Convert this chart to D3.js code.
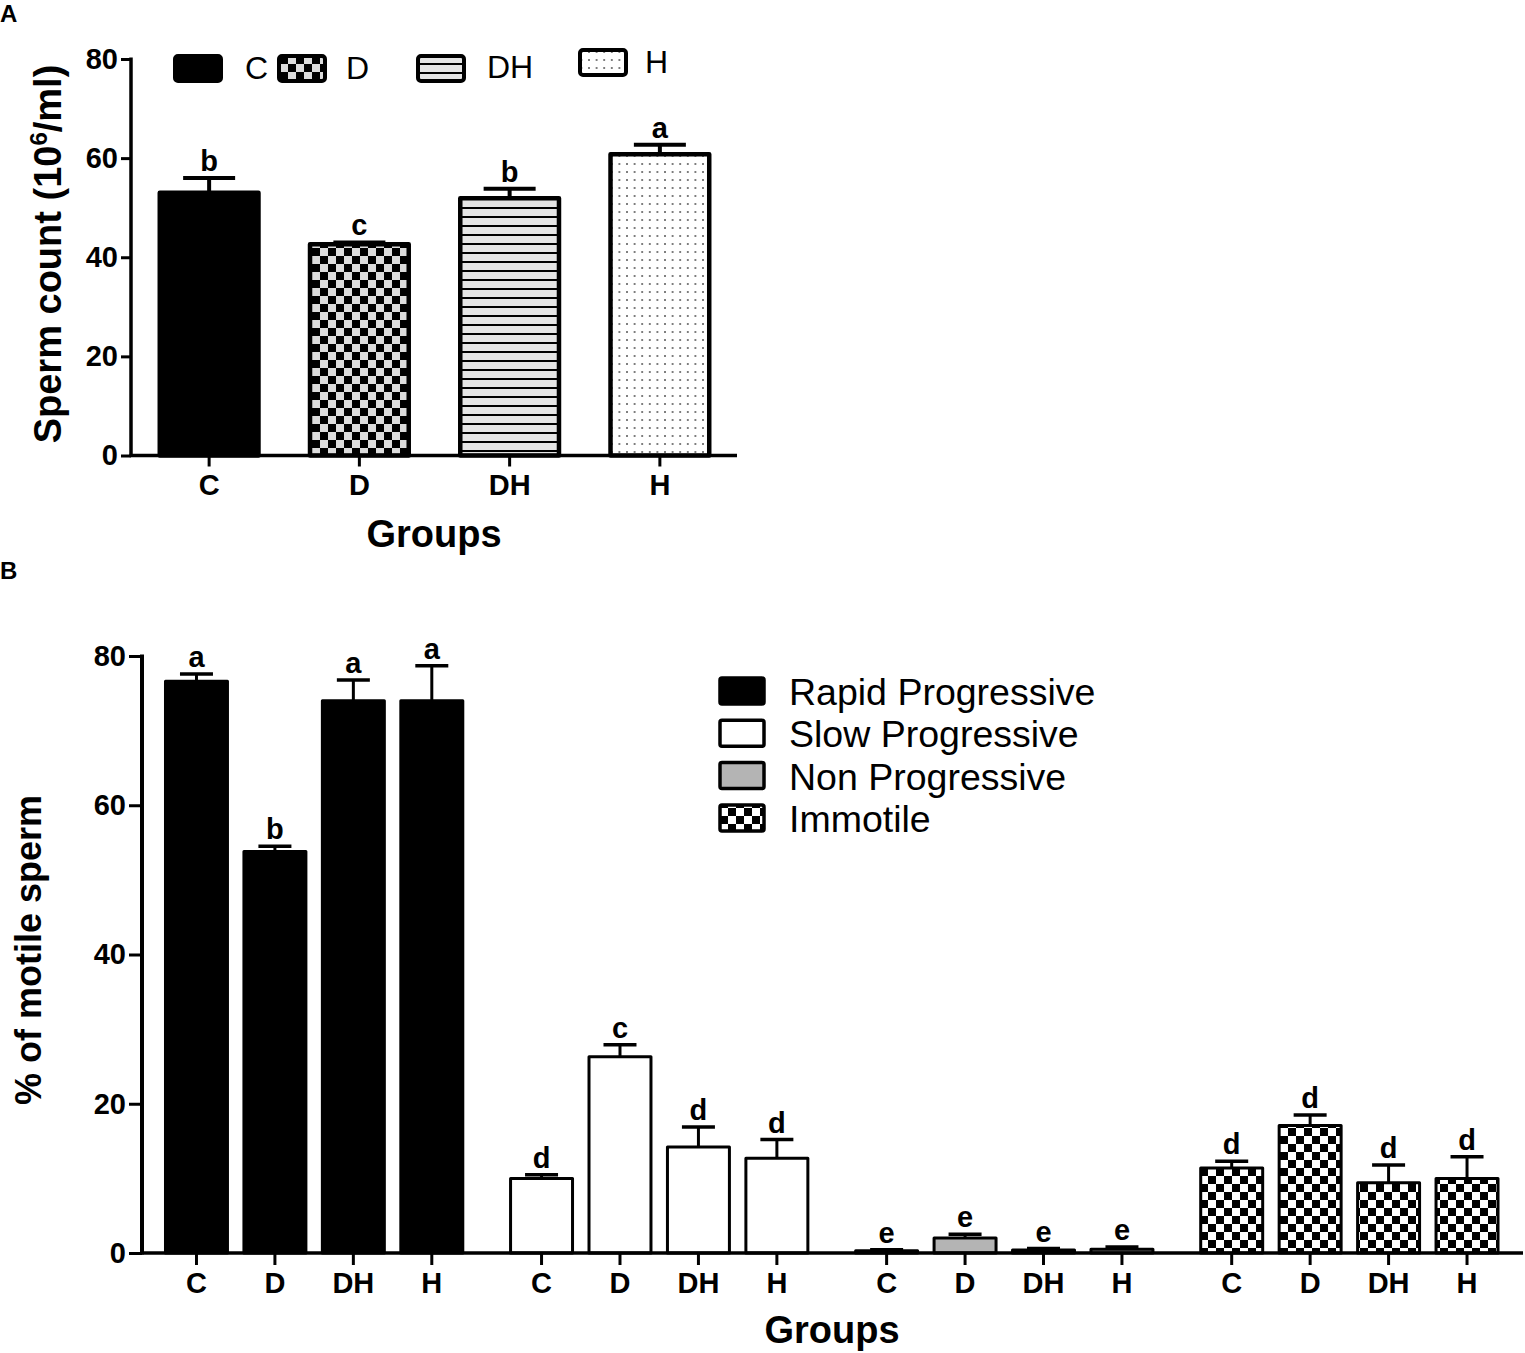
<!DOCTYPE html>
<html>
<head>
<meta charset="utf-8">
<script src="https://cdn.jsdelivr.net/npm/d3@7"></script>
<style>
  html, body { margin: 0; padding: 0; background: #fff; }
  svg { display: block; font-family: "Liberation Sans", Arial, sans-serif; }
</style>
</head>
<body>
<script>
// ---------- DATA ----------
const groups = ["C", "D", "DH", "H"];
const yTicks = [0, 20, 40, 60, 80];

// Panel A: sperm count (10^6/ml)
const countMean = [53.0, 42.6, 51.9, 60.8];
const countSem  = [3.0, 0.4, 1.9, 1.9];
const countLetters = ["b", "c", "b", "a"];

// Panel B: motility (%)
const motilityClasses = ["Rapid Progressive", "Slow Progressive", "Non Progressive", "Immotile"];
const rapidMean = [76.6, 53.8, 74.0, 74.0];
const rapidSem  = [1.0, 0.7, 2.8, 4.7];
const rapidLetters = ["a", "b", "a", "a"];
const slowMean = [10.0, 26.3, 14.2, 12.7];
const slowSem  = [0.5, 1.6, 2.7, 2.5];
const slowLetters = ["d", "c", "d", "d"];
const nonMean = [0.3, 2.0, 0.4, 0.5];
const nonSem  = [0.15, 0.5, 0.2, 0.3];
const nonLetters = ["e", "e", "e", "e"];
const immotileMean = [11.4, 17.1, 9.4, 10.0];
const immotileSem  = [0.9, 1.4, 2.4, 2.9];
const immotileLetters = ["d", "d", "d", "d"];

// ---------- SETUP ----------
const W = 1525, H = 1353;
const svg = d3.select("body").append("svg").attr("width", W).attr("height", H);
svg.append("rect").attr("width", W).attr("height", H).attr("fill", "#fff");

const defs = svg.append("defs");
const pCheckA = defs.append("pattern").attr("id", "checkA").attr("patternUnits", "userSpaceOnUse")
  .attr("width", 16).attr("height", 16);
pCheckA.append("rect").attr("width", 16).attr("height", 16).attr("fill", "#dcdcdc");
pCheckA.append("rect").attr("width", 8).attr("height", 8).attr("fill", "#000");
pCheckA.append("rect").attr("x", 8).attr("y", 8).attr("width", 8).attr("height", 8).attr("fill", "#000");
const pCheckB = defs.append("pattern").attr("id", "checkB").attr("patternUnits", "userSpaceOnUse")
  .attr("width", 16).attr("height", 16);
pCheckB.append("rect").attr("width", 16).attr("height", 16).attr("fill", "#fff");
pCheckB.append("rect").attr("width", 8).attr("height", 8).attr("fill", "#000");
pCheckB.append("rect").attr("x", 8).attr("y", 8).attr("width", 8).attr("height", 8).attr("fill", "#000");
const pStripe = defs.append("pattern").attr("id", "stripes").attr("patternUnits", "userSpaceOnUse")
  .attr("width", 10).attr("height", 9);
pStripe.append("rect").attr("width", 10).attr("height", 9).attr("fill", "#e4e4e4");
pStripe.append("rect").attr("y", 0).attr("width", 10).attr("height", 2).attr("fill", "#000");
const pDots = defs.append("pattern").attr("id", "dots").attr("patternUnits", "userSpaceOnUse")
  .attr("width", 7.6).attr("height", 8);
pDots.append("rect").attr("width", 7.6).attr("height", 8).attr("fill", "#fff");
pDots.append("circle").attr("cx", 3.8).attr("cy", 4).attr("r", 0.9).attr("fill", "#444");

const fillsA = ["#000", "url(#checkA)", "url(#stripes)", "url(#dots)"];
const fillsB = ["#000", "#fff", "#b4b4b4", "url(#checkB)"];

function styleTickText(sel) {
  sel.attr("font-size", 29).attr("font-weight", "bold")
    .attr("font-family", "Liberation Sans, Arial, sans-serif").attr("fill", "#000");
}

// ---------- PANEL A ----------
(function () {
  const g = svg.append("g");
  const x = d3.scaleBand().domain(groups).range([134, 735]).paddingInner(0.343).paddingOuter(0.1715);
  const y = d3.scaleLinear().domain([0, 80]).range([455.5, 59]);
  const axisX0 = 131, axisX1 = 737;

  const data = groups.map((k, i) => ({ k, v: countMean[i], e: countSem[i], l: countLetters[i], f: fillsA[i] }));
  const cap = 52;
  data.forEach(d => {
    const cx = x(d.k) + x.bandwidth() / 2;
    g.append("line").attr("x1", cx).attr("x2", cx).attr("y1", y(d.v)).attr("y2", y(d.v + d.e))
      .attr("stroke", "#000").attr("stroke-width", 4);
    g.append("line").attr("x1", cx - cap / 2).attr("x2", cx + cap / 2).attr("y1", y(d.v + d.e)).attr("y2", y(d.v + d.e))
      .attr("stroke", "#000").attr("stroke-width", 4);
    g.append("text").attr("x", cx).attr("y", y(d.v + d.e) - 7).attr("text-anchor", "middle")
      .attr("font-size", 29).attr("font-weight", "bold").text(d.l);
  });
  g.selectAll("rect.bar").data(data).join("rect").attr("class", "bar")
    .attr("x", d => x(d.k)).attr("width", x.bandwidth())
    .attr("y", d => y(d.v)).attr("height", d => y(0) - y(d.v))
    .attr("fill", d => d.f).attr("stroke", "#000").attr("stroke-width", 4.5)
    .attr("stroke-linejoin", "round");

  const ya = g.append("g").attr("transform", `translate(${axisX0},0)`)
    .call(d3.axisLeft(y).tickValues(yTicks).tickSize(10).tickPadding(3));
  ya.select(".domain").remove();
  ya.selectAll(".tick line").attr("stroke-width", 3);
  styleTickText(ya.selectAll(".tick text"));
  g.append("line").attr("x1", axisX0).attr("x2", axisX0).attr("y1", y(80) - 1.5).attr("y2", y(0) + 1.5)
    .attr("stroke", "#000").attr("stroke-width", 3.5);

  const xa = g.append("g").attr("transform", `translate(0,${y(0)})`)
    .call(d3.axisBottom(x).tickSize(11).tickPadding(8));
  xa.select(".domain").remove();
  xa.selectAll(".tick line").attr("stroke-width", 3);
  styleTickText(xa.selectAll(".tick text"));
  g.append("line").attr("x1", axisX0 - 1.5).attr("x2", axisX1).attr("y1", y(0)).attr("y2", y(0))
    .attr("stroke", "#000").attr("stroke-width", 3.5);

  g.append("text").attr("x", 434).attr("y", 547).attr("text-anchor", "middle")
    .attr("font-size", 38).attr("font-weight", "bold").text("Groups");
  const yt = g.append("text").attr("transform", "translate(61,254) rotate(-90)").attr("text-anchor", "middle")
    .attr("font-size", 38).attr("font-weight", "bold");
  yt.append("tspan").text("Sperm count (10");
  yt.append("tspan").attr("font-size", 24).attr("dy", -14).text("6");
  yt.append("tspan").attr("dy", 14).text("/ml)");

  const leg = [
    { sx: 175, sy: 56, tx: 245, ty: 79, f: fillsA[0], t: "C" },
    { sx: 279, sy: 56, tx: 346, ty: 79, f: fillsA[1], t: "D" },
    { sx: 418, sy: 56, tx: 487, ty: 78, f: fillsA[2], t: "DH" },
    { sx: 580, sy: 50, tx: 645, ty: 73, f: fillsA[3], t: "H" }
  ];
  leg.forEach(d => {
    g.append("rect").attr("x", d.sx).attr("y", d.sy).attr("width", 46).attr("height", 25)
      .attr("rx", 3).attr("fill", d.f).attr("stroke", "#000").attr("stroke-width", 4);
    g.append("text").attr("x", d.tx).attr("y", d.ty).attr("font-size", 32).text(d.t);
  });

  svg.append("text").attr("x", 0).attr("y", 22).attr("font-size", 24).attr("font-weight", "bold").text("A");
})();

// ---------- PANEL B ----------
(function () {
  const g = svg.append("g");
  const series = [
    { name: motilityClasses[0], mean: rapidMean, sem: rapidSem, letters: rapidLetters, fill: fillsB[0] },
    { name: motilityClasses[1], mean: slowMean, sem: slowSem, letters: slowLetters, fill: fillsB[1] },
    { name: motilityClasses[2], mean: nonMean, sem: nonSem, letters: nonLetters, fill: fillsB[2] },
    { name: motilityClasses[3], mean: immotileMean, sem: immotileSem, letters: immotileLetters, fill: fillsB[3] }
  ];
  const x0 = d3.scaleBand().domain(motilityClasses).range([157.25, 1506.25]).paddingInner(0.0907).paddingOuter(0);
  const x1 = d3.scaleBand().domain(groups).range([0, x0.bandwidth()]).paddingInner(0.21).paddingOuter(0.105);
  const y = d3.scaleLinear().domain([0, 80]).range([1253, 656]);
  const axisX0 = 142, axisX1 = 1523;

  const flat = [];
  series.forEach(s => groups.forEach((k, i) => flat.push({ s: s.name, k, v: s.mean[i], e: s.sem[i], l: s.letters[i], f: s.fill })));
  const cap = 33;
  flat.forEach(d => {
    const cx = x0(d.s) + x1(d.k) + x1.bandwidth() / 2;
    g.append("line").attr("x1", cx).attr("x2", cx).attr("y1", y(d.v)).attr("y2", y(d.v + d.e))
      .attr("stroke", "#000").attr("stroke-width", 3);
    g.append("line").attr("x1", cx - cap / 2).attr("x2", cx + cap / 2).attr("y1", y(d.v + d.e)).attr("y2", y(d.v + d.e))
      .attr("stroke", "#000").attr("stroke-width", 3.5);
    g.append("text").attr("x", cx).attr("y", y(d.v + d.e) - 7).attr("text-anchor", "middle")
      .attr("font-size", 29).attr("font-weight", "bold").text(d.l);
  });
  g.selectAll("rect.bar").data(flat).join("rect").attr("class", "bar")
    .attr("x", d => x0(d.s) + x1(d.k)).attr("width", x1.bandwidth())
    .attr("y", d => y(d.v)).attr("height", d => y(0) - y(d.v))
    .attr("fill", d => d.f).attr("stroke", "#000").attr("stroke-width", 3)
    .attr("stroke-linejoin", "round");

  const ya = g.append("g").attr("transform", `translate(${axisX0},0)`)
    .call(d3.axisLeft(y).tickValues(yTicks).tickSize(13).tickPadding(3));
  ya.select(".domain").remove();
  ya.selectAll(".tick line").attr("stroke-width", 3);
  styleTickText(ya.selectAll(".tick text"));
  g.append("line").attr("x1", axisX0).attr("x2", axisX0).attr("y1", y(80) - 1.5).attr("y2", y(0) + 1.5)
    .attr("stroke", "#000").attr("stroke-width", 4);

  series.forEach(s => {
    const xa = g.append("g").attr("transform", `translate(${x0(s.name)},${y(0)})`)
      .call(d3.axisBottom(x1).tickSize(12).tickPadding(7));
    xa.select(".domain").remove();
    xa.selectAll(".tick line").attr("stroke-width", 3);
    styleTickText(xa.selectAll(".tick text"));
  });
  g.append("line").attr("x1", axisX0 - 2).attr("x2", axisX1).attr("y1", y(0)).attr("y2", y(0))
    .attr("stroke", "#000").attr("stroke-width", 3.5);

  g.append("text").attr("x", 832).attr("y", 1343).attr("text-anchor", "middle")
    .attr("font-size", 38).attr("font-weight", "bold").text("Groups");
  g.append("text").attr("transform", "translate(41,950) rotate(-90)").attr("text-anchor", "middle")
    .attr("font-size", 36).attr("font-weight", "bold").text("% of motile sperm");

  series.forEach((s, i) => {
    const yy = 678 + i * 42.3;
    g.append("rect").attr("x", 720).attr("y", yy).attr("width", 44).attr("height", 26)
      .attr("rx", 2).attr("fill", s.fill).attr("stroke", "#000").attr("stroke-width", 3.5);
    g.append("text").attr("x", 789).attr("y", yy + 27).attr("font-size", 37.5).text(s.name);
  });

  svg.append("text").attr("x", 0).attr("y", 579).attr("font-size", 24).attr("font-weight", "bold").text("B");
})();
</script>
</body>
</html>
